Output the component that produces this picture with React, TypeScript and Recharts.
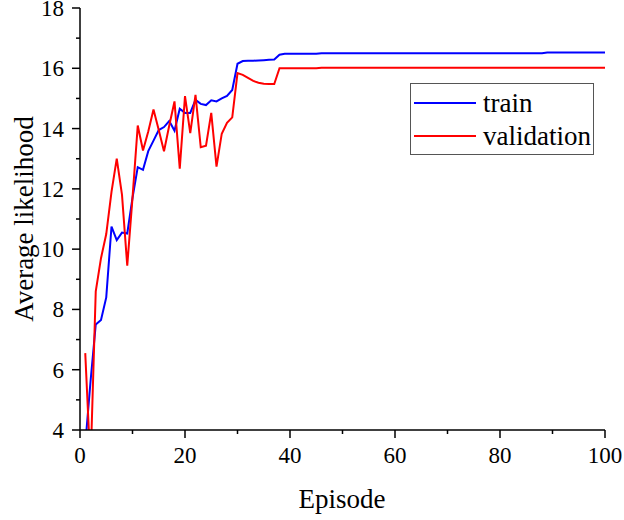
import { LineChart, Line, XAxis, YAxis } from "recharts";

// training curve, average likelihood per episode (episodes 1..100)
const trainValues = [
  3.5, 5.6, 7.5, 7.65, 8.4, 10.75, 10.3, 10.55, 10.52, 11.7,
  12.72, 12.63, 13.25, 13.6, 13.95, 14.05, 14.25, 13.93, 14.66, 14.52,
  14.52, 14.95, 14.82, 14.78, 14.94, 14.9, 15.0, 15.08, 15.28, 16.15,
  16.24, 16.25, 16.25, 16.26, 16.27, 16.28, 16.29, 16.45, 16.48, 16.48,
  16.48, 16.48, 16.48, 16.48, 16.48, 16.5, 16.5, 16.5, 16.5, 16.5,
  16.5, 16.5, 16.5, 16.5, 16.5, 16.5, 16.5, 16.5, 16.5, 16.5,
  16.5, 16.5, 16.5, 16.5, 16.5, 16.5, 16.5, 16.5, 16.5, 16.5,
  16.5, 16.5, 16.5, 16.5, 16.5, 16.5, 16.5, 16.5, 16.5, 16.5,
  16.5, 16.5, 16.5, 16.5, 16.5, 16.5, 16.5, 16.5, 16.52, 16.52,
  16.52, 16.52, 16.52, 16.52, 16.52, 16.52, 16.52, 16.52, 16.52, 16.52,
];

const validationValues = [
  6.55, 2.8, 8.6, 9.7, 10.5, 11.9, 13.0, 11.8, 9.45, 11.7,
  14.1, 13.27, 13.9, 14.63, 13.95, 13.25, 14.1, 14.9, 12.67, 15.08,
  13.85, 15.12, 13.38, 13.43, 14.52, 12.74, 13.83, 14.19, 14.37, 15.84,
  15.78, 15.68, 15.58, 15.52, 15.49, 15.48, 15.48, 16.0, 16.0, 16.0,
  16.0, 16.0, 16.0, 16.0, 16.0, 16.02, 16.02, 16.02, 16.02, 16.02,
  16.02, 16.02, 16.02, 16.02, 16.02, 16.02, 16.02, 16.02, 16.02, 16.02,
  16.02, 16.02, 16.02, 16.02, 16.02, 16.02, 16.02, 16.02, 16.02, 16.02,
  16.02, 16.02, 16.02, 16.02, 16.02, 16.02, 16.02, 16.02, 16.02, 16.02,
  16.02, 16.02, 16.02, 16.02, 16.02, 16.02, 16.02, 16.02, 16.02, 16.02,
  16.02, 16.02, 16.02, 16.02, 16.02, 16.02, 16.02, 16.02, 16.02, 16.02,
];

const episodes = trainValues.map((_, i) => i + 1);

const xTicks = [0, 10, 20, 30, 40, 50, 60, 70, 80, 90, 100];
const yTicks = [4, 5, 6, 7, 8, 9, 10, 11, 12, 13, 14, 15, 16, 17, 18];

const data = episodes.map((ep, i) => ({
  ep,
  train: trainValues[i],
  validation: validationValues[i],
}));

const FONT = "'Liberation Serif', 'Times New Roman', serif";

const XTick = ({ x, y, payload }: any) => {
  const major = payload.value % 20 === 0;
  return (
    <g>
      <line x1={x} x2={x} y1={y} y2={y + (major ? 8 : 4)} stroke="#000" strokeWidth={1.5} />
      {major && (
        <text x={x} y={y + 33} textAnchor="middle" fontSize={23} fontFamily={FONT} fill="#000">
          {payload.value}
        </text>
      )}
    </g>
  );
};

const YTick = ({ x, y, payload }: any) => {
  const major = payload.value % 2 === 0;
  return (
    <g>
      <line x1={x} x2={x - (major ? 8 : 4)} y1={y} y2={y} stroke="#000" strokeWidth={1.5} />
      {major && (
        <text x={x - 16} y={y + 8} textAnchor="end" fontSize={23} fontFamily={FONT} fill="#000">
          {payload.value}
        </text>
      )}
    </g>
  );
};

function LegendBox() {
  const row = (color: string, label: string, top: number) => (
    <div style={{ position: "absolute", left: 0, top, height: 34, width: "100%" }}>
      <div style={{ position: "absolute", left: 3, top: 16, width: 62, height: 2, background: color }} />
      <span
        style={{
          position: "absolute",
          left: 72,
          top: 0,
          fontSize: 27,
          lineHeight: "34px",
          fontFamily: FONT,
          color: "#000",
          whiteSpace: "nowrap",
        }}
      >
        {label}
      </span>
    </div>
  );
  return (
    <div
      style={{
        position: "absolute",
        left: 410,
        top: 83,
        width: 184,
        height: 72,
        border: "1px solid #555",
        boxSizing: "border-box",
        background: "#fff",
      }}
    >
      {row("#0000ff", "train", 2)}
      {row("#ff0000", "validation", 35)}
    </div>
  );
}

export default function App() {
  return (
    <div style={{ position: "absolute", left: 0, top: 0, width: 624, height: 520, background: "#fff" }}>
      <LineChart
        width={624}
        height={520}
        data={data}
        margin={{ top: 8, right: 19, bottom: 0, left: 0 }}
        accessibilityLayer={false}
      >
        <XAxis
          dataKey="ep"
          type="number"
          domain={[0, 100]}
          ticks={xTicks}
          interval={0}
          height={90}
          tickSize={0}
          tickMargin={0}
          tickLine={false}
          tick={<XTick />}
          axisLine={{ stroke: "#000", strokeWidth: 1.5 }}
          label={() => (
            <text x={342} y={508} textAnchor="middle" fontSize={27} fontFamily={FONT} fill="#000">
              Episode
            </text>
          )}
        />
        <XAxis
          xAxisId="top"
          orientation="top"
          type="number"
          domain={[0, 100]}
          height={0}
          tick={false}
          tickLine={false}
          axisLine={{ stroke: "#000", strokeWidth: 1.5 }}
        />
        <YAxis
          type="number"
          domain={[4, 18]}
          ticks={yTicks}
          interval={0}
          width={80}
          allowDataOverflow
          tickSize={0}
          tickMargin={0}
          tickLine={false}
          tick={<YTick />}
          axisLine={{ stroke: "#000", strokeWidth: 1.5 }}
          label={() => (
            <text
              x={33}
              y={219}
              transform="rotate(-90 33 219)"
              textAnchor="middle"
              fontSize={27}
              fontFamily={FONT}
              fill="#000"
            >
              Average likelihood
            </text>
          )}
        />
        <YAxis
          yAxisId="right"
          orientation="right"
          type="number"
          domain={[4, 18]}
          width={0}
          tick={false}
          tickLine={false}
          axisLine={{ stroke: "#000", strokeWidth: 1.5 }}
        />
        <Line
          type="linear"
          dataKey="train"
          stroke="#0000ff"
          strokeWidth={2}
          dot={false}
          isAnimationActive={false}
        />
        <Line
          type="linear"
          dataKey="validation"
          stroke="#ff0000"
          strokeWidth={2}
          dot={false}
          isAnimationActive={false}
        />
      </LineChart>
      <LegendBox />
    </div>
  );
}
